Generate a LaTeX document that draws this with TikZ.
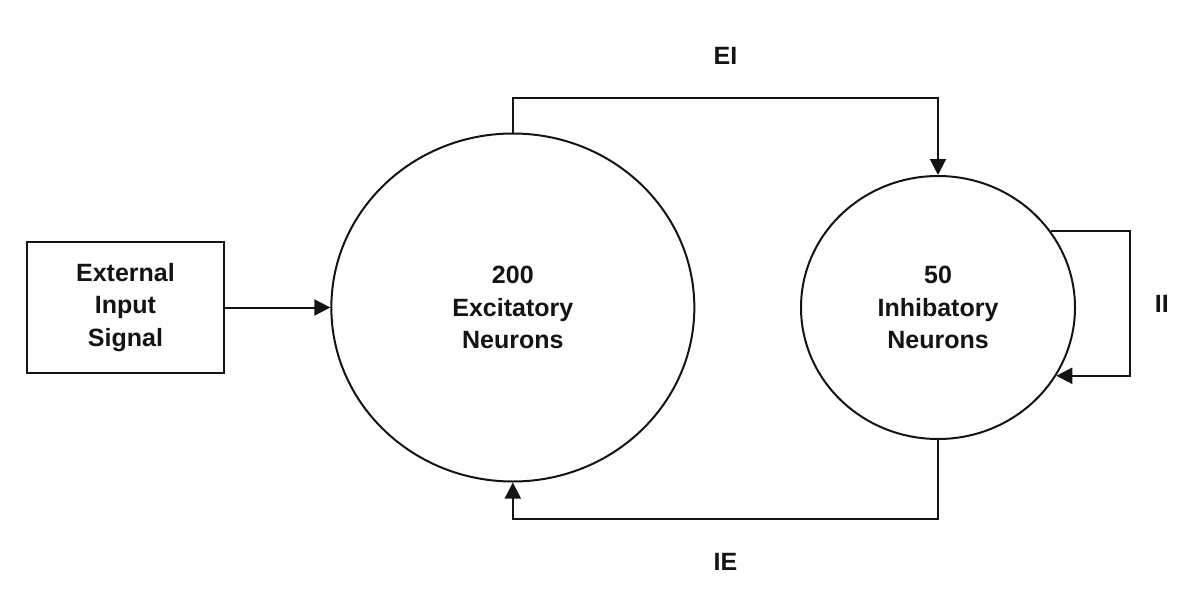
\documentclass[tikz,border=0pt]{standalone}
\usepackage{fontspec}
\setmainfont{Liberation Sans}
\usepackage{xcolor}
\usepackage{tikz}
\usetikzlibrary{positioning,arrows.meta,shapes.geometric}
\definecolor{nnink}{RGB}{20,20,20}

\begin{document}
\begin{tikzpicture}[x=0.75pt, y=-0.75pt,
  txt/.style={font=\bfseries\fontsize{18.75pt}{24.5pt}\selectfont, text=nnink, align=center},
  src/.style={txt, draw=nnink, line width=1.5pt, inner sep=0pt,
              minimum width=147.75pt, minimum height=98.25pt},
  pop/.style={txt, ellipse, draw=nnink, line width=1.5pt, inner sep=0pt},
  big/.style={pop, minimum width=272.25pt, minimum height=261pt},
  small/.style={pop, minimum width=205.5pt, minimum height=197.25pt},
  line/.style={-{Triangle[length=12pt, width=12pt]}, draw=nnink, line width=1.5pt},
  tag/.style={txt, inner sep=2pt},
]
\useasboundingbox (0,0) rectangle (1196,614);

\node[src] (ext) at (125.5,307.5) {External\\Input\\Signal};
\node[big, right=79pt of ext] (exc) {200\\Excitatory\\Neurons};
\node[small, right=78.5pt of exc] (inh) {50\\Inhibatory\\Neurons};

\draw[line] (ext) -- (exc);
\draw[line] (exc.north) -- ++(0,-35) -| node[tag, pos=0.25, above=22pt] {EI} (inh.north);
\draw[line] (inh.south) -- ++(0,78.5) -| node[tag, pos=0.25, below=23.5pt] {IE} (exc.south);
\draw[line] (inh.34) -- ++(79,0) |- node[tag, pos=0.25, right=16pt] {II} (inh.-30);
\end{tikzpicture}
\end{document}
